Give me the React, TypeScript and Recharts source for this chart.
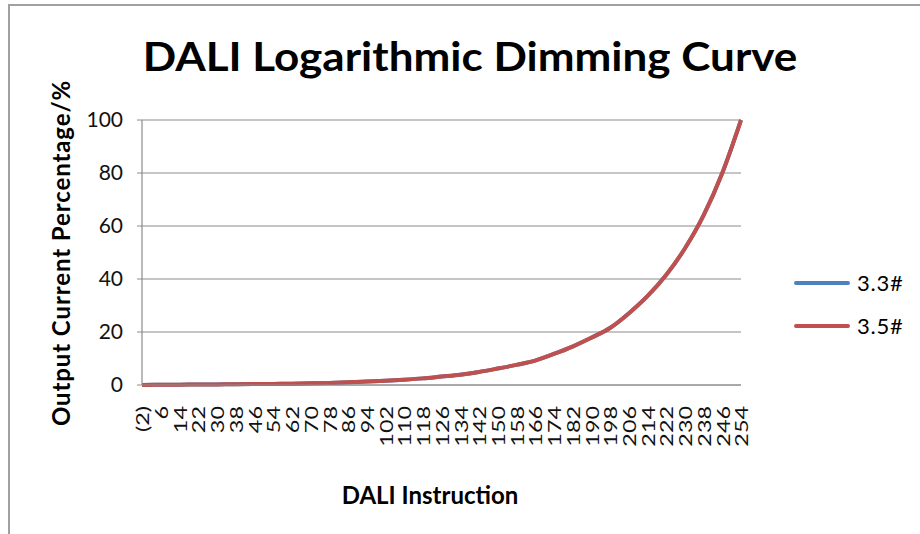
import { LineChart, Line, XAxis, YAxis, CartesianGrid } from "recharts";

const instructions = [
  "(2)", "6", "14", "22", "30", "38", "46", "54", "62", "70", "78", "86", "94",
  "102", "110", "118", "126", "134", "142", "150", "158", "166", "174", "182",
  "190", "198", "206", "214", "222", "230", "238", "246", "254",
];

const series33 = [
  0, 0.1, 0.14, 0.18, 0.22, 0.28, 0.35, 0.42, 0.5, 0.65, 0.8, 1.0, 1.3,
  1.6, 2.0, 2.5, 3.2, 3.9, 4.9, 6.2, 7.6, 9.2, 11.7, 14.5,
  17.8, 21.5, 27, 33.5, 41.5, 51.5, 64, 80, 100,
];

const series35 = [
  0, 0.1, 0.14, 0.18, 0.22, 0.28, 0.35, 0.42, 0.5, 0.65, 0.8, 1.0, 1.3,
  1.6, 2.0, 2.5, 3.2, 3.9, 4.9, 6.2, 7.6, 9.2, 11.7, 14.5,
  17.8, 21.5, 27, 33.5, 41.5, 51.5, 64, 80, 100,
];

const yTicks = [0, 20, 40, 60, 80, 100];

const legendItems = [
  { name: "3.3#", color: "#4F81BD" },
  { name: "3.5#", color: "#C0504D" },
];

const data = instructions.map((x, i) => ({
  x,
  s33: series33[i],
  s35: series35[i],
}));

const FONT = "Lato, 'Open Sans', sans-serif";

// vertical category labels, stretched a bit along the text like the original
function XTick(props: any) {
  const { x, y, payload } = props;
  return (
    <g transform={`translate(${x},${y}) rotate(-90) scale(1.3,1)`}>
      <text
        x={-10}
        y={0}
        textAnchor="end"
        dominantBaseline="central"
        fontSize={18}
        fontFamily={FONT}
        fill="#111"
      >
        {payload.value}
      </text>
    </g>
  );
}

export default function App() {
  return (
    <div
      style={{
        position: "absolute",
        left: 0,
        top: 0,
        width: 920,
        height: 534,
        background: "#fff",
        fontFamily: FONT,
        overflow: "hidden",
      }}
    >
      <div
        style={{
          position: "absolute",
          left: 8,
          top: 4,
          width: 912,
          height: 530,
          borderTop: "2px solid #a0a0a0",
          borderLeft: "2px solid #a0a0a0",
        }}
      />
      <div
        style={{
          position: "absolute",
          left: 470,
          top: 56,
          transform: "translate(-50%, -50%) scaleX(1.1)",
          whiteSpace: "nowrap",
          fontSize: 40,
          fontWeight: 700,
          color: "#000",
        }}
      >
        DALI Logarithmic Dimming Curve
      </div>
      <div
        style={{
          position: "absolute",
          left: 60,
          top: 253,
          transform: "translate(-50%, -50%) rotate(-90deg)",
          whiteSpace: "nowrap",
          fontSize: 24,
          fontWeight: 700,
          letterSpacing: 0.9,
          color: "#000",
        }}
      >
        Output Current Percentage/%
      </div>
      <div
        style={{
          position: "absolute",
          left: 430,
          top: 494,
          transform: "translate(-50%, -50%)",
          whiteSpace: "nowrap",
          fontSize: 24,
          fontWeight: 700,
          color: "#000",
        }}
      >
        DALI Instruction
      </div>
      {legendItems.map((item, i) => (
        <div
          key={item.name}
          style={{
            position: "absolute",
            left: 794,
            top: 269 + i * 43,
            display: "flex",
            alignItems: "center",
            fontSize: 22,
            letterSpacing: 0.8,
            color: "#000",
          }}
        >
          <span
            style={{
              display: "inline-block",
              width: 56,
              height: 4,
              borderRadius: 2,
              background: item.color,
              marginRight: 7,
            }}
          />
          {item.name}
        </div>
      ))}
      <div style={{ position: "absolute", left: 0, top: 0 }}>
        <LineChart
          width={920}
          height={534}
          data={data}
          margin={{ top: 120, right: 179, left: 82, bottom: 89 }}
        >
          <CartesianGrid vertical={false} stroke="#8c8c8c" strokeWidth={1.2} />
          <XAxis
            dataKey="x"
            interval={0}
            height={60}
            tick={<XTick />}
            tickLine={false}
            axisLine={{ stroke: "#8c8c8c" }}
          />
          <YAxis
            width={60}
            domain={[0, 100]}
            ticks={yTicks}
            tick={{ fontSize: 21, fill: "#111", fontFamily: FONT }}
            tickLine={{ stroke: "#8c8c8c" }}
            tickSize={5}
            tickMargin={14}
            axisLine={{ stroke: "#8c8c8c", strokeWidth: 1.2 }}
          />
          <Line
            type="monotone"
            dataKey="s33"
            stroke="#4F81BD"
            strokeWidth={4}
            dot={false}
            isAnimationActive={false}
          />
          <Line
            type="monotone"
            dataKey="s35"
            stroke="#C0504D"
            strokeWidth={4}
            dot={false}
            isAnimationActive={false}
          />
        </LineChart>
      </div>
    </div>
  );
}
